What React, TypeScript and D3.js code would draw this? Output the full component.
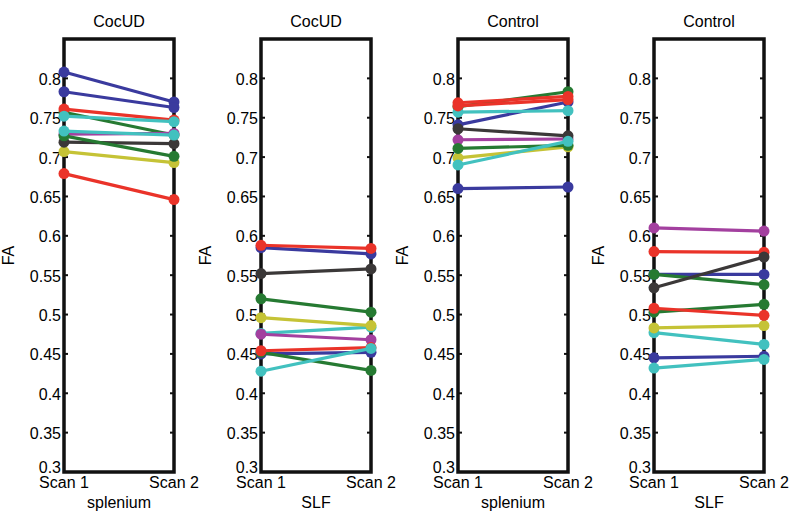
import * as d3 from "d3";

// MATLAB default line colour cycle (b g r c m y k), as it looks in the figure
const colorCycle = ["#3a3a9e", "#267a32", "#ea3329", "#42c1bf", "#a3409f", "#c5c336", "#3b3838"];

const titles = ["CocUD", "CocUD", "Control", "Control"];
const regions = ["splenium", "SLF", "splenium", "SLF"];
const scanLabels = ["Scan 1", "Scan 2"];
const yTicks = [0.3, 0.35, 0.4, 0.45, 0.5, 0.55, 0.6, 0.65, 0.7, 0.75, 0.8];

// FA per subject, scan 1 and scan 2 (subject order follows colour cycle)
const cocudSpleniumScan1 = [0.808, 0.757, 0.761, 0.752, 0.729, 0.707, 0.719, 0.783, 0.727, 0.679, 0.733];
const cocudSpleniumScan2 = [0.770, 0.728, 0.747, 0.745, 0.730, 0.693, 0.717, 0.763, 0.701, 0.646, 0.728];
const cocudSlfScan1 = [0.585, 0.520, 0.588, 0.476, 0.475, 0.496, 0.552, 0.450, 0.452, 0.454, 0.428];
const cocudSlfScan2 = [0.577, 0.503, 0.584, 0.484, 0.468, 0.486, 0.558, 0.452, 0.429, 0.458, 0.457];
const controlSpleniumScan1 = [0.741, 0.764, 0.769, 0.757, 0.722, 0.699, 0.736, 0.660, 0.711, 0.765, 0.690];
const controlSpleniumScan2 = [0.770, 0.783, 0.777, 0.759, 0.723, 0.713, 0.727, 0.662, 0.715, 0.773, 0.720];
const controlSlfScan1 = [0.551, 0.551, 0.580, 0.477, 0.610, 0.483, 0.534, 0.445, 0.503, 0.508, 0.432];
const controlSlfScan2 = [0.551, 0.538, 0.579, 0.462, 0.606, 0.486, 0.573, 0.447, 0.513, 0.499, 0.443];

const panels = [
  [cocudSpleniumScan1, cocudSpleniumScan2],
  [cocudSlfScan1, cocudSlfScan2],
  [controlSpleniumScan1, controlSpleniumScan2],
  [controlSlfScan1, controlSlfScan2],
];

const panelLefts = [64, 261, 458, 654];
const panelWidth = 110;
const top = 39;
const bottom = 472;
const font = "Liberation Sans, Arial, sans-serif";

export default function App() {
  const y = d3.scaleLinear().domain([0.3, 0.85]).range([bottom, top]);
  const fmt = (v: number) => String(+v.toFixed(2));

  return (
    <svg
      width={800}
      height={517}
      style={{ position: "absolute", left: 0, top: 0, background: "#fff" }}
      fontFamily={font}
    >
      {panels.map(([s1, s2], p) => {
        const left = panelLefts[p];
        const x = d3.scaleLinear().domain([1, 2]).range([left, left + panelWidth]);
        const line = d3
          .line<[number, number]>()
          .x((d) => x(d[0]))
          .y((d) => y(d[1]));
        return (
          <g key={p}>
            <text x={left + panelWidth / 2} y={27} textAnchor="middle" fontSize={16}>
              {titles[p]}
            </text>
            {yTicks.map((t, k) => (
              <g key={t}>
                <line x1={x(1)} x2={x(1) + 4} y1={y(t)} y2={y(t)} stroke="#111" strokeWidth={2} />
                <line x1={x(2) - 4} x2={x(2)} y1={y(t)} y2={y(t)} stroke="#111" strokeWidth={2} />
                <text
                  x={x(1) - 3}
                  y={k === 0 ? y(t) + 1 : y(t) + 1}
                  textAnchor="end"
                  dominantBaseline={k === 0 ? "auto" : "central"}
                  fontSize={16}
                >
                  {fmt(t)}
                </text>
              </g>
            ))}
            <rect
              x={x(1)}
              y={top}
              width={panelWidth}
              height={bottom - top}
              fill="none"
              stroke="#111"
              strokeWidth={3.5}
            />
            {scanLabels.map((s, i) => (
              <text key={s} x={x(i + 1)} y={488} textAnchor="middle" fontSize={16}>
                {s}
              </text>
            ))}
            <text x={left + panelWidth / 2} y={508} textAnchor="middle" fontSize={16}>
              {regions[p]}
            </text>
            <text
              transform={`translate(${left - 50},${y(0.575)}) rotate(-90)`}
              textAnchor="middle"
              fontSize={16}
            >
              FA
            </text>
            {s1.map((v, i) => {
              const pts: [number, number][] = [
                [1, v],
                [2, s2[i]],
              ];
              const c = colorCycle[i % colorCycle.length];
              return (
                <g key={i}>
                  <path d={line(pts) ?? ""} stroke={c} strokeWidth={3.2} fill="none" />
                  {pts.map((d, j) => (
                    <circle key={j} cx={x(d[0])} cy={y(d[1])} r={5.5} fill={c} />
                  ))}
                </g>
              );
            })}
          </g>
        );
      })}
    </svg>
  );
}
